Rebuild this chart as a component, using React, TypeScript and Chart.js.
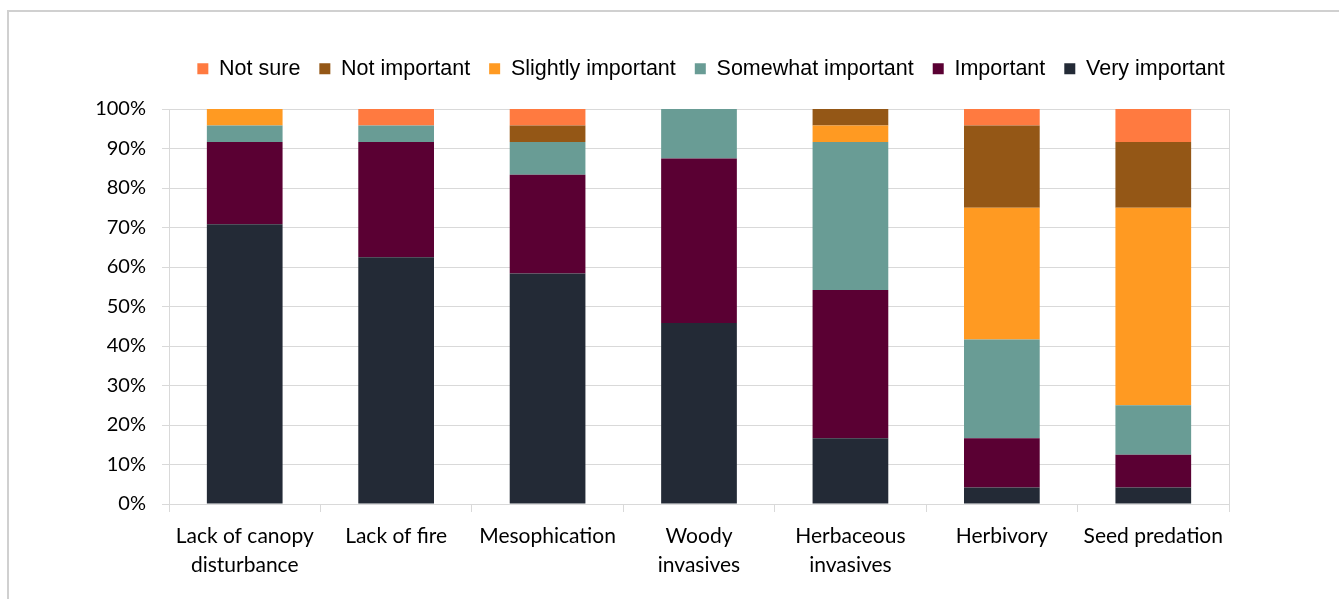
import React, { useEffect, useRef } from "react";
import { Chart, registerables } from "chart.js";

Chart.register(...registerables);

const categories: (string | string[])[] = [
  ["Lack of canopy", "disturbance"],
  "Lack of fire",
  "Mesophication",
  ["Woody", "invasives"],
  ["Herbaceous", "invasives"],
  "Herbivory",
  "Seed predation",
];

const veryImportant = [70.83, 62.5, 58.33, 45.83, 16.67, 4.17, 4.17];
const important = [20.83, 29.17, 25.0, 41.67, 37.5, 12.5, 8.33];
const somewhatImportant = [4.17, 4.17, 8.33, 12.5, 37.5, 25.0, 12.5];
const slightlyImportant = [4.17, 0, 0, 0, 4.17, 33.33, 50.0];
const notImportant = [0, 0, 4.17, 0, 4.17, 20.83, 16.67];
const notSure = [0, 4.17, 4.17, 0, 0, 4.17, 8.33];

const yTicks = [0, 10, 20, 30, 40, 50, 60, 70, 80, 90, 100];

const GRID = "#D9D9D9";

export default function App() {
  const canvasRef = useRef<HTMLCanvasElement | null>(null);

  useEffect(() => {
    document.body.style.margin = "0";
    const ctx = canvasRef.current;
    if (!ctx) return;
    const chart = new Chart(ctx, {
      type: "bar",
      data: {
        labels: categories,
        datasets: [
          { label: "Very important", data: veryImportant, backgroundColor: "#232A36" },
          { label: "Important", data: important, backgroundColor: "#5A0033" },
          { label: "Somewhat important", data: somewhatImportant, backgroundColor: "#699C95" },
          { label: "Slightly important", data: slightlyImportant, backgroundColor: "#FF9A22" },
          { label: "Not important", data: notImportant, backgroundColor: "#945716" },
          { label: "Not sure", data: notSure, backgroundColor: "#FF7A40" },
        ],
      },
      options: {
        animation: false,
        responsive: false,
        maintainAspectRatio: false,
        datasets: {
          bar: { barPercentage: 0.5, categoryPercentage: 1.0, borderWidth: 0 },
        },
        layout: { padding: { left: 93, right: 10, top: 39, bottom: 0 } },
        plugins: {
          tooltip: { enabled: false },
          legend: {
            position: "top",
            reverse: true,
            labels: {
              boxWidth: 11,
              boxHeight: 11,
              padding: 19,
              color: "#000",
              font: { family: "'Liberation Sans', Arial, sans-serif", size: 21.5 },
            },
          },
        },
        scales: {
          x: {
            stacked: true,
            grid: {
              display: true,
              offset: true,
              drawOnChartArea: false,
              drawTicks: true,
              tickLength: 8,
              color: GRID,
            },
            border: { display: true, color: GRID, width: 1 },
            ticks: {
              color: "#000",
              padding: 10,
              maxRotation: 0,
              autoSkip: false,
              font: { family: "Lato, 'Open Sans', sans-serif", size: 21, lineHeight: 1.38 },
            },
            afterFit: (s: any) => {
              s.height = 95;
            },
          },
          xTop: {
            type: "category",
            position: "top",
            display: true,
            grid: { display: false, drawTicks: false },
            border: { display: false },
            ticks: { display: false },
            afterFit: (s: any) => {
              s.height = 19.5;
            },
          },
          y: {
            stacked: true,
            min: 0,
            max: 100,
            afterBuildTicks: (s: any) => {
              s.ticks = yTicks.map((v) => ({ value: v }));
            },
            grid: { color: GRID, tickLength: 7, drawTicks: true },
            border: { display: true, color: GRID, width: 1 },
            ticks: {
              color: "#000",
              padding: 16,
              font: { family: "Lato, 'Open Sans', sans-serif", size: 20 },
              callback: (v: any) => v + "%",
            },
            afterFit: (s: any) => {
              s.width = 76;
            },
          },
          yRight: {
            type: "linear",
            position: "right",
            display: true,
            min: 0,
            max: 100,
            grid: { display: false, drawTicks: false },
            border: { display: true, color: GRID, width: 1 },
            ticks: { display: false },
            afterFit: (s: any) => {
              s.width = 100;
            },
          },
        },
      } as any,
    });
    return () => chart.destroy();
  }, []);

  return (
    <div style={{ position: "absolute", left: 0, top: 0, width: 1339, height: 599, overflow: "hidden", background: "#fff" }}>
      <div
        style={{
          position: "absolute",
          left: 7,
          top: 10,
          width: 1400,
          height: 700,
          border: "2px solid #D0D0D0",
          boxSizing: "border-box",
        }}
      />
      <canvas
        ref={canvasRef}
        width={1339}
        height={599}
        style={{ position: "absolute", left: 0, top: 0, width: 1339, height: 599 }}
      />
    </div>
  );
}
